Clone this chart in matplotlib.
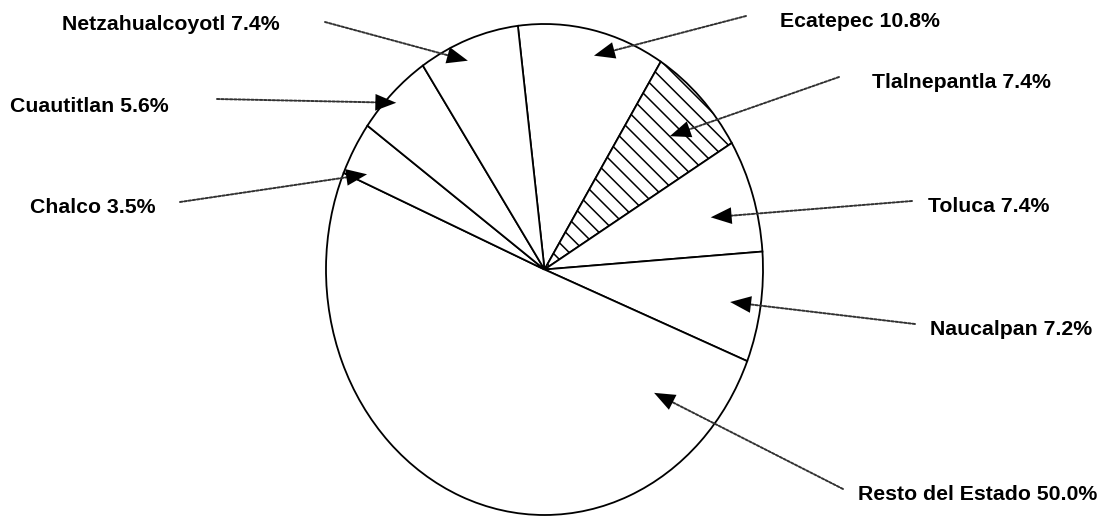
import matplotlib
matplotlib.use('Agg')
import matplotlib.pyplot as plt
import numpy as np

# ---- data (pie order, clockwise from the top) ----
names = ["Ecatepec", "Tlalnepantla", "Toluca", "Naucalpan",
         "Resto del Estado", "Chalco", "Cuautitlan", "Netzahualcoyotl"]
values = [10.8, 7.4, 7.4, 7.2, 50.0, 3.5, 5.6, 7.4]

# ---- layout (pixels of the 1098x516 canvas) ----
W, H = 1098, 516
CX, CY, RX, RY = 544.5, 269.5, 218.5, 245.5
label_left = [780, 872, 928, 930, 858, 30, 10, 62]
label_base = [27, 88, 212, 335, 500, 213, 112, 30]
line_start = [(746, 16), (839, 77), (912, 201), (915, 324),
              (843, 489), (180, 202), (217, 99), (325, 22)]
tip_radius = [0.90, 0.79, 0.79, 0.86, 0.71, 0.90, 0.96, 0.92]
tip_offset = [-2, -1, -2, 0, 67.5, 4, 1, 2]

plt.rcParams['hatch.linewidth'] = 1.1

fig = plt.figure(figsize=(W / 100, H / 100), dpi=100)
ax = fig.add_axes([0, 0, 1, 1])

wedges, _ = ax.pie(values, startangle=97, counterclock=False,
                   colors=['white'] * len(values), normalize=True,
                   wedgeprops=dict(edgecolor='black', linewidth=1.3))
wedges[1].set_hatch('\\\\')

ax.set_aspect('auto')
ax.set_xlim(-CX / RX, (W - CX) / RX)
ax.set_ylim(-(H - CY) / RY, CY / RY)
ax.axis('off')


def px(x, y):
    return ((x - CX) / RX, (CY - y) / RY)


for i, w in enumerate(wedges):
    mid = np.deg2rad((w.theta1 + w.theta2) / 2 + tip_offset[i])
    tip = (tip_radius[i] * np.cos(mid), tip_radius[i] * np.sin(mid))
    # dotted leader line
    ax.annotate('', xy=tip, xytext=px(*line_start[i]),
                arrowprops=dict(arrowstyle='-', color='#333333', lw=1.4,
                                linestyle=(0, (1.3, 0.9)),
                                shrinkA=0, shrinkB=4))
    # solid filled arrow head
    ax.annotate('', xy=tip, xytext=px(*line_start[i]),
                arrowprops=dict(arrowstyle='-|>,head_length=1.5,head_width=0.6',
                                color='black', lw=0.01,
                                shrinkA=0, shrinkB=0))
    ax.text(*px(label_left[i], label_base[i]), f"{names[i]} {values[i]:.1f}%",
            ha='left', va='baseline', fontsize=15.3, fontweight='bold',
            family='Liberation Sans', color='black')

fig.savefig('out.png', dpi=100)
